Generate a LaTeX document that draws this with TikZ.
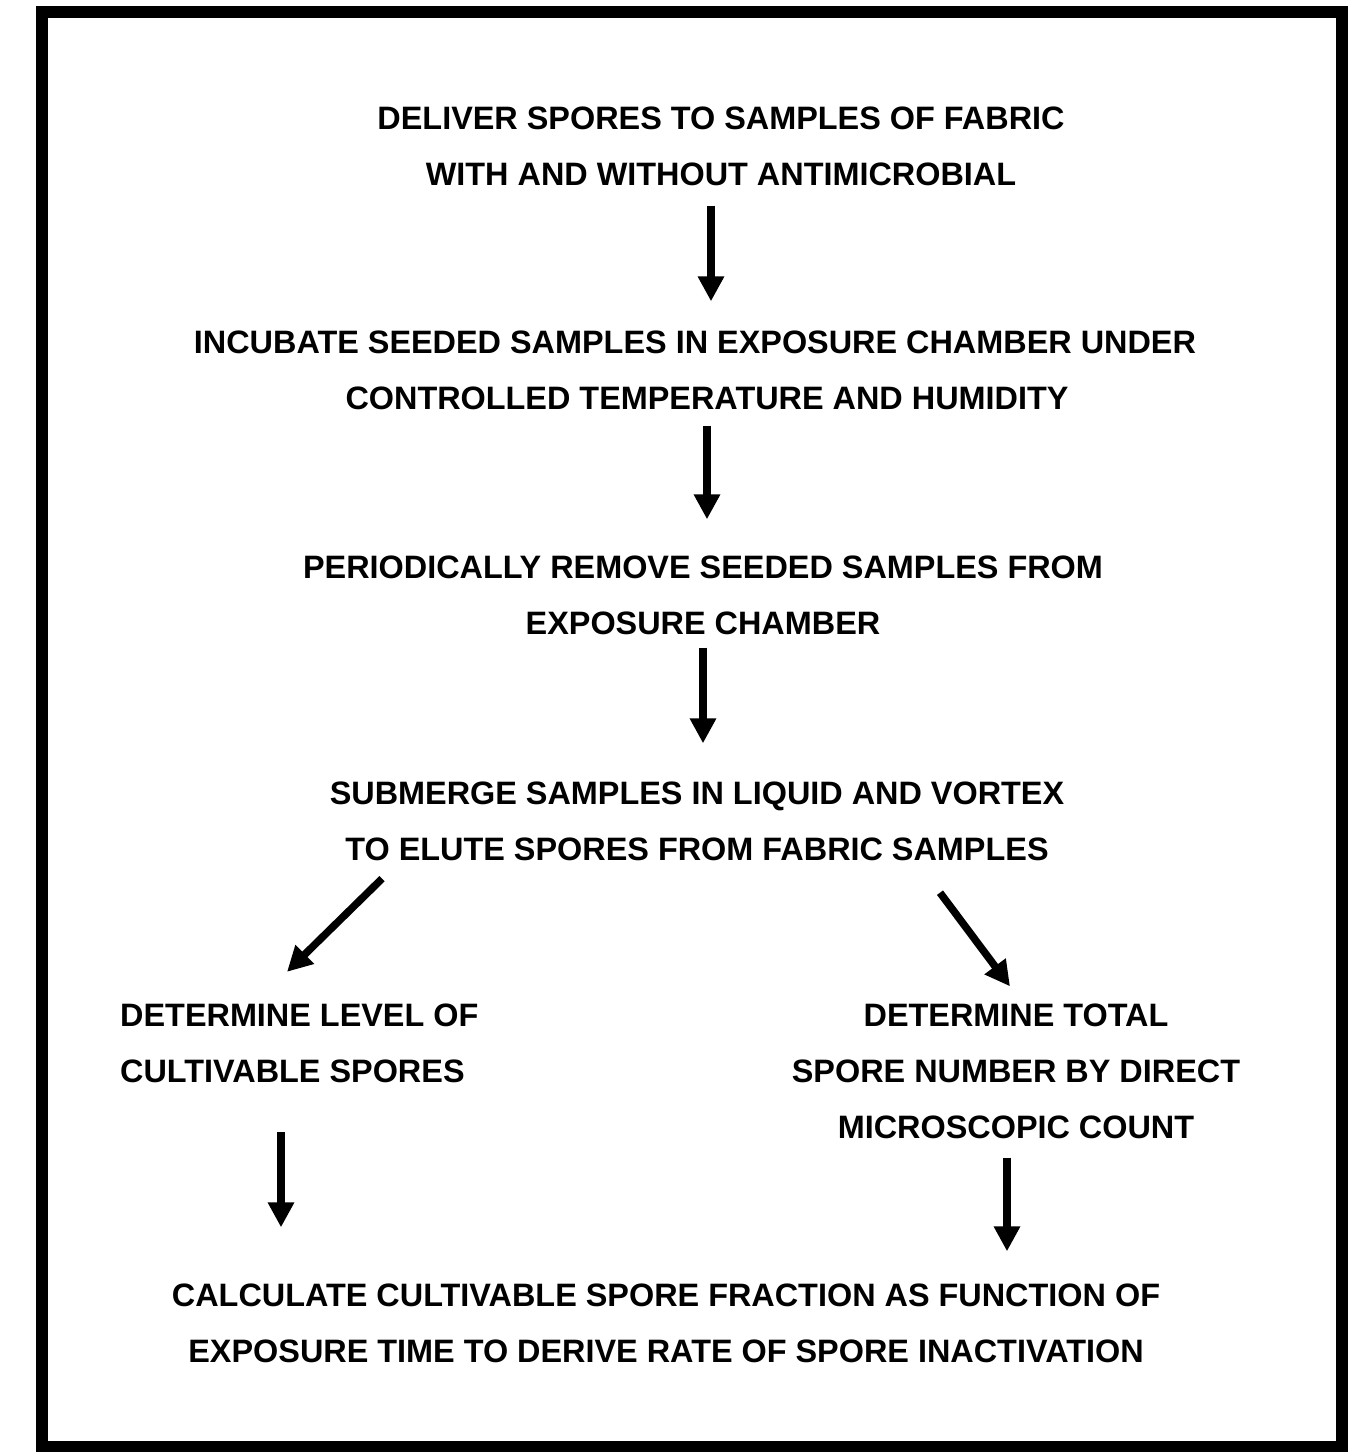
\documentclass[tikz,border=0pt]{standalone}
\usepackage{fontspec}
\setmainfont{Liberation Sans}
\usetikzlibrary{arrows.meta}
\begin{document}
\begin{tikzpicture}[x=1pt,y=-1pt,
  steptext/.style={font=\bfseries\fontsize{32.4}{56}\selectfont,inner sep=0pt,align=center},
  arr/.style={line width=7.5pt,-{Triangle[width=25pt,length=25pt]}},
  frame/.style={line width=12pt}]
\useasboundingbox (0,0) rectangle (1370,1452);
\draw[frame] (42,12) rectangle (1342,1447);
\node[steptext] (n1) at (721,146) {DELIVER SPORES TO SAMPLES OF FABRIC\\WITH AND WITHOUT ANTIMICROBIAL};
\node[steptext] (n2) at (695,370) {INCUBATE SEEDED SAMPLES IN EXPOSURE CHAMBER UNDER\\\hspace*{24pt}CONTROLLED TEMPERATURE AND HUMIDITY};
\node[steptext] (n3) at (703,595) {PERIODICALLY REMOVE SEEDED SAMPLES FROM\\EXPOSURE CHAMBER};
\node[steptext] (n4) at (697,821) {SUBMERGE SAMPLES IN LIQUID AND VORTEX\\TO ELUTE SPORES FROM FABRIC SAMPLES};
\node[steptext,align=left,anchor=west] (n5l) at (120,1043.5) {DETERMINE LEVEL OF\\CULTIVABLE SPORES};
\node[steptext] (n5r) at (1016,1071) {DETERMINE TOTAL\\SPORE NUMBER BY DIRECT\\MICROSCOPIC COUNT};
\node[steptext] (n6) at (666,1323) {CALCULATE CULTIVABLE SPORE FRACTION AS FUNCTION OF\\EXPOSURE TIME TO DERIVE RATE OF SPORE INACTIVATION};
\draw[arr] ([xshift=-10pt,yshift=-20pt]n1.south) -- ([xshift=16pt,yshift=29pt]n2.north);
\draw[arr] ([xshift=12pt,yshift=-16pt]n2.south) -- ([xshift=4pt,yshift=36pt]n3.north);
\draw[arr] ([xshift=0pt,yshift=-13pt]n3.south) -- ([xshift=6pt,yshift=38pt]n4.north);
\draw[arr] ([xshift=-315pt,yshift=-18pt]n4.south) -- ([xshift=167pt,yshift=32pt]n5l.north west);
\draw[arr] ([xshift=243pt,yshift=-32pt]n4.south) -- ([xshift=-6pt,yshift=17pt]n5r.north);
\draw[arr] ([xshift=161pt,yshift=-49pt]n5l.south west) -- ([xshift=-385pt,yshift=56pt]n6.north);
\draw[arr] ([xshift=-9pt,yshift=-19pt]n5r.south) -- ([xshift=341pt,yshift=32pt]n6.north);
\end{tikzpicture}
\end{document}
